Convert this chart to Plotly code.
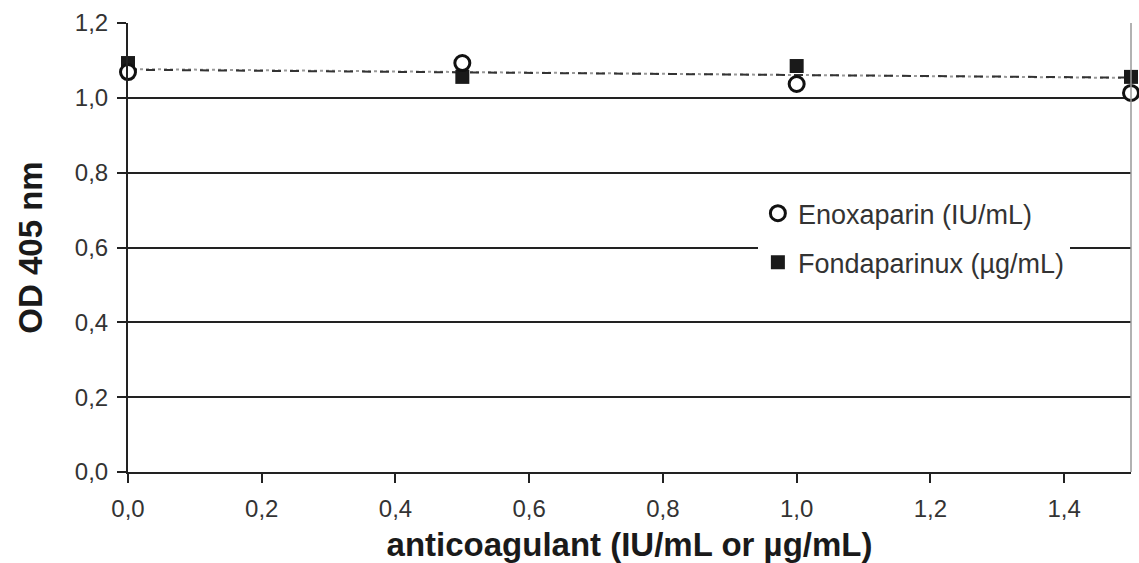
import plotly.graph_objects as go

# Concentration of anticoagulant added (IU/mL or µg/mL)
conc = [0.0, 0.5, 1.0, 1.5]

# Absorbance at 405 nm
enoxaparin_od = [1.069, 1.093, 1.037, 1.013]
fondaparinux_od = [1.093, 1.056, 1.085, 1.056]

# Linear trend lines (endpoints)
trend_x = [0.0, 1.5]
enoxaparin_trend = [1.077, 1.053]
fondaparinux_trend = [1.075, 1.054]

x_ticks = [0.0, 0.2, 0.4, 0.6, 0.8, 1.0, 1.2, 1.4]
y_ticks = [0.0, 0.2, 0.4, 0.6, 0.8, 1.0, 1.2]

FONT = "Liberation Sans, Arial, sans-serif"
TEXT = "#333333"

fig = go.Figure()

fig.add_trace(go.Scatter(
    x=trend_x, y=enoxaparin_trend, mode="lines",
    line=dict(color="#9a9a9a", width=2, dash="dot"),
    showlegend=False, hoverinfo="skip",
))
fig.add_trace(go.Scatter(
    x=trend_x, y=fondaparinux_trend, mode="lines",
    line=dict(color="#333333", width=2, dash="dash"),
    showlegend=False, hoverinfo="skip",
))
fig.add_trace(go.Scatter(
    x=conc, y=fondaparinux_od, mode="markers",
    name="Fondaparinux (µg/mL)", legendgroup="f", legendrank=2,
    marker=dict(symbol="square", size=14, color="#1a1a1a",
                line=dict(color="#1a1a1a", width=0)),
    cliponaxis=False,
))
fig.add_trace(go.Scatter(
    x=conc, y=enoxaparin_od, mode="markers",
    name="Enoxaparin (IU/mL)", legendgroup="e", legendrank=1,
    marker=dict(symbol="circle", size=15, color="white",
                line=dict(color="#111111", width=3)),
    cliponaxis=False,
))

# thin grey frame line on the right edge of the plot
fig.add_shape(type="line", xref="paper", yref="paper",
              x0=1, x1=1, y0=0, y1=1,
              line=dict(color="#999999", width=1.5))

fig.update_layout(
    width=1139, height=563,
    margin=dict(l=128, r=8, t=23, b=91),
    paper_bgcolor="white", plot_bgcolor="white",
    separators=",.",
    font=dict(family=FONT, color=TEXT, size=24),
    legend=dict(
        x=0.628, y=0.63, xanchor="left", yanchor="top",
        bgcolor="white", borderwidth=0,
        font=dict(family=FONT, size=27, color=TEXT),
        tracegroupgap=11, itemwidth=30,
        traceorder="grouped",
    ),
    xaxis=dict(
        range=[0, 1.5], tickvals=x_ticks, tickformat=".1f",
        showgrid=False, zeroline=False,
        showline=True, linecolor="#222222", linewidth=2,
        ticks="outside", ticklen=9, tickwidth=2, tickcolor="#222222",
        tickfont=dict(size=24, color=TEXT), ticklabelstandoff=5,
        automargin=False,
        title=dict(text="<b>anticoagulant (IU/mL or µg/mL)</b>",
                   font=dict(size=33, color="#1a1a1a"), standoff=12),
    ),
    yaxis=dict(
        range=[0, 1.2], tickvals=y_ticks, tickformat=".1f",
        showgrid=True, gridcolor="#222222", gridwidth=1.5,
        zeroline=False,
        showline=True, linecolor="#222222", linewidth=2,
        ticks="outside", ticklen=9, tickwidth=2, tickcolor="#222222",
        tickfont=dict(size=24, color=TEXT), ticklabelstandoff=4,
        automargin=False,
        title=dict(text="<b>OD 405 nm</b>",
                   font=dict(size=33, color="#1a1a1a"), standoff=22),
    ),
)

fig.write_html("out.html")
